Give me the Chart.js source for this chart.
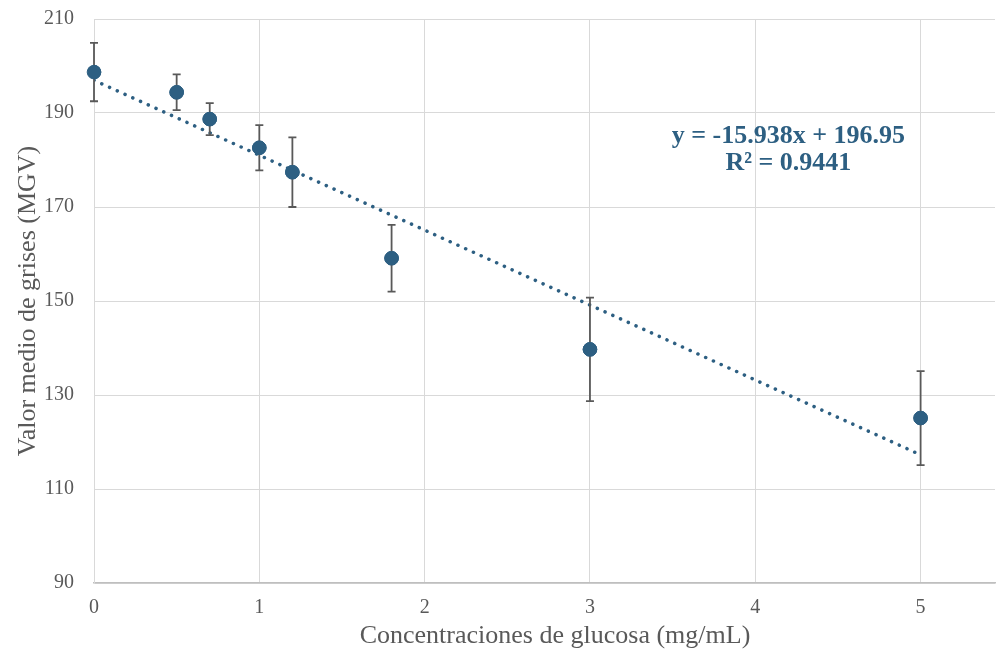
<!DOCTYPE html>
<html>
<head>
<meta charset="utf-8">
<script src="https://cdn.jsdelivr.net/npm/chart.js@4.4.1/dist/chart.umd.min.js"></script>
<style>
  html, body { margin: 0; padding: 0; background: #fff; }
  #wrap { width: 996px; height: 654px; }
</style>
</head>
<body>
<div id="wrap"><canvas id="chart" width="996" height="654"></canvas></div>
<script>
// concentracion de glucosa (mg/mL)
const concentrations = [0, 0.5, 0.7, 1, 1.2, 1.8, 3, 5];
// valor medio de grises
const mgvValues = [198.7, 194.4, 188.7, 182.6, 177.4, 159.1, 139.7, 125.1];
// desviacion (barras de error)
const mgvErrors = [6.2, 3.8, 3.4, 4.8, 7.4, 7.1, 11.0, 10.0];
// linea de tendencia (extremos)
const trendX = [0, 5];
const trendY = [196.95, 117.26];
const xTicks = [0, 1, 2, 3, 4, 5];
const yTicks = [90, 110, 130, 150, 170, 190, 210];
const equationLines = ['y = -15.938x + 196.95', 'R\u00B2 = 0.9441'];

const blue = '#2d5f82';
const tickGray = '#595959';
const gridGray = '#d9d9d9';
const serif = '"Liberation Serif", "Times New Roman", serif';

const errorBars = {
    id: 'errorBars',
    afterDatasetsDraw(chart) {
        const { ctx, scales: { x, y } } = chart;
        ctx.save();
        ctx.strokeStyle = '#595959';
        ctx.lineWidth = 1.8;
        concentrations.forEach((cx, i) => {
            const px = x.getPixelForValue(cx);
            const top = y.getPixelForValue(mgvValues[i] + mgvErrors[i]);
            const bot = y.getPixelForValue(mgvValues[i] - mgvErrors[i]);
            ctx.beginPath();
            ctx.moveTo(px, top); ctx.lineTo(px, bot);
            ctx.moveTo(px - 4, top); ctx.lineTo(px + 4, top);
            ctx.moveTo(px - 4, bot); ctx.lineTo(px + 4, bot);
            ctx.stroke();
        });
        ctx.restore();
        // redraw markers above the bars
        chart.getDatasetMeta(1).data.forEach(pt => pt.draw(ctx));
    }
};

const annotations = {
    id: 'annotations',
    afterDraw(chart) {
        const { ctx, chartArea, scales: { x, y } } = chart;
        ctx.save();
        // trend equation
        ctx.fillStyle = blue;
        ctx.font = 'bold 26px ' + serif;
        ctx.textAlign = 'center';
        ctx.textBaseline = 'middle';
        const ex = x.getPixelForValue(4.2);
        ctx.fillText(equationLines[0], ex, y.getPixelForValue(185.0));
        ctx.fillText(equationLines[1], ex, y.getPixelForValue(179.2));
        // x axis title (chart was cropped on the right, so centre is offset)
        ctx.fillStyle = tickGray;
        ctx.font = '26px ' + serif;
        ctx.fillText('Concentraciones de glucosa (mg/mL)', chartArea.left + (chartArea.width + 21) / 2, 636);
        ctx.restore();
    }
};

new Chart(document.getElementById('chart'), {
    type: 'scatter',
    data: {
        datasets: [
            {
                type: 'line',
                label: 'Tendencia',
                data: trendX.map((v, i) => ({ x: v, y: trendY[i] })),
                borderColor: blue,
                borderWidth: 3.5,
                borderDash: [0.1, 8.4],
                borderCapStyle: 'round',
                pointRadius: 0,
                fill: false,
                order: 2
            },
            {
                label: 'MGV',
                data: concentrations.map((v, i) => ({ x: v, y: mgvValues[i] })),
                backgroundColor: blue,
                borderColor: blue,
                pointRadius: 6.8,
                order: 1
            }
        ]
    },
    options: {
        responsive: false,
        animation: false,
        layout: { autoPadding: false, padding: { top: 19, right: 1, left: 0, bottom: 0 } },
        plugins: {
            legend: { display: false },
            tooltip: { enabled: false }
        },
        scales: {
            x: {
                type: 'linear',
                min: 0,
                max: 5.45,
                afterBuildTicks: axis => { axis.ticks = xTicks.map(v => ({ value: v })); },
                afterFit: axis => {
                    axis.height = 71;
                    axis.paddingLeft = 0;
                    axis.paddingRight = 0;
                },
                grid: { color: gridGray, drawTicks: false, lineWidth: 1 },
                border: { color: '#bfbfbf', width: 1.5 },
                ticks: { color: tickGray, font: { family: serif, size: 20 }, padding: 13, maxRotation: 0 }
            },
            y: {
                min: 90,
                max: 210,
                afterBuildTicks: axis => { axis.ticks = yTicks.map(v => ({ value: v })); },
                afterFit: axis => {
                    axis.width = 94;
                    axis.paddingTop = 0;
                    axis.paddingBottom = 0;
                },
                grid: { color: gridGray, drawTicks: false, lineWidth: 1 },
                border: { color: gridGray, width: 1 },
                ticks: { color: tickGray, font: { family: serif, size: 20 }, padding: 20 },
                title: {
                    display: true,
                    text: 'Valor medio de grises (MGV)',
                    color: tickGray,
                    font: { family: serif, size: 26 },
                    padding: { top: 13, bottom: 0 }
                }
            }
        }
    },
    plugins: [errorBars, annotations]
});
</script>
</body>
</html>
